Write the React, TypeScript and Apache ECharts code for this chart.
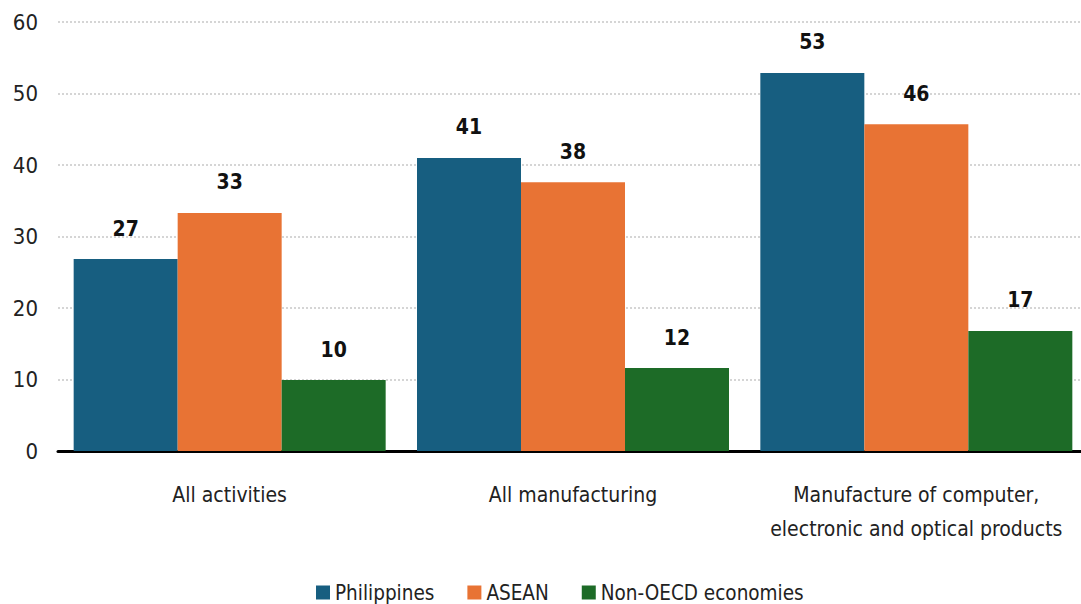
import React, { useEffect, useRef } from "react";
import * as echarts from "echarts";

const categories = [
  "All activities",
  "All manufacturing",
  "Manufacture of computer,\nelectronic and optical products",
];
const seriesNames = ["Philippines", "ASEAN", "Non-OECD economies"];
const philippines = [26.85, 40.98, 52.87];
const asean = [33.3, 37.6, 45.7];
const nonOecd = [9.93, 11.6, 16.8];
const colors = ["#175e80", "#e87334", "#1d6b27"];
const yTicks = { min: 0, max: 60, interval: 10 };

const FONT = "'Liberation Sans Narrow', 'DejaVu Sans Condensed', Roboto, sans-serif";

export default function App() {
  const ref = useRef<HTMLDivElement>(null);
  useEffect(() => {
    if (!ref.current) return;
    const chart = echarts.init(ref.current, null, { renderer: "svg" });
    const values = [philippines, asean, nonOecd];
    chart.setOption({
      animation: false,
      textStyle: { fontFamily: FONT },
      grid: {
        left: 58,
        width: 1030,
        top: 22,
        height: 429,
        containLabel: false,
        outerBoundsMode: "none",
      },
      legend: {
        left: 311,
        top: 577,
        itemWidth: 14,
        itemHeight: 14,
        itemGap: 33,
        icon: "rect",
        textStyle: { fontFamily: FONT, fontSize: 20.5, color: "#222" },
        data: seriesNames,
      },
      xAxis: {
        type: "category",
        data: categories,
        axisLine: { lineStyle: { color: "#000", width: 3 } },
        axisTick: { show: false },
        axisLabel: {
          fontFamily: FONT,
          fontSize: 21,
          color: "#222",
          margin: 27,
          lineHeight: 34,
          interval: 0,
        },
      },
      yAxis: {
        type: "value",
        min: yTicks.min,
        max: yTicks.max,
        interval: yTicks.interval,
        axisLine: { show: false },
        axisTick: { show: false },
        axisLabel: { fontFamily: FONT, fontSize: 22, color: "#222", margin: 20 },
        splitLine: { lineStyle: { color: "#c8c8c8", type: [2, 2], width: 1.5 } },
      },
      series: seriesNames.map((name, i) => ({
        name,
        type: "bar",
        data: values[i],
        barWidth: 104,
        barGap: "0%",
        itemStyle: { color: colors[i] },
        label: {
          show: true,
          position: "top",
          distance: 20,
          fontFamily: FONT,
          fontSize: 21,
          fontWeight: "bold",
          color: "#111",
          formatter: (p: any) => String(Math.round(p.value)),
        },
      })),
    });
    return () => chart.dispose();
  }, []);
  return (
    <div
      ref={ref}
      style={{ position: "fixed", left: 0, top: 0, width: 1081, height: 604, background: "#fff" }}
    />
  );
}
